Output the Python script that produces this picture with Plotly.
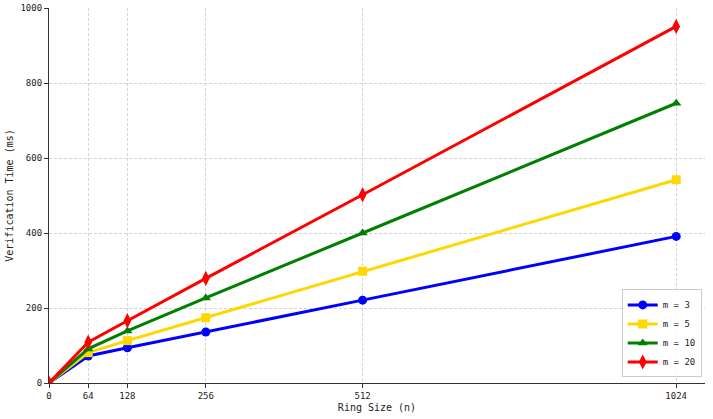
import plotly.graph_objects as go

ring_sizes = [0, 64, 128, 256, 512, 1024]
x_tick_labels = ["0", "64", "128", "256", "512", "1024"]
series_names = ["m = 3", "m = 5", "m = 10", "m = 20"]
m3 = [0, 72, 94, 136, 221, 391]
m5 = [0, 81, 113, 174, 298, 542]
m10 = [0, 91, 139, 227, 400, 746]
m20 = [0, 109, 166, 279, 502, 951]
y_ticks = [0, 200, 400, 600, 800, 1000]

colors = ["#0000ff", "#ffd700", "#008000", "#ff0000"]
symbols = ["circle", "square", "triangle-up", "diamond-tall"]
values = [m3, m5, m10, m20]

FONT = "DejaVu Sans Mono"

fig = go.Figure()
for name, vals, c, s in zip(series_names, values, colors, symbols):
    fig.add_trace(go.Scatter(
        x=ring_sizes, y=vals, name=name, mode="lines+markers",
        line=dict(color=c, width=3),
        marker=dict(symbol=s, size=9 if s != "diamond-tall" else 11, color=c),
    ))

fig.update_layout(
    width=713, height=419,
    margin=dict(l=49, r=8, t=8, b=36),
    plot_bgcolor="white", paper_bgcolor="white",
    font=dict(family=FONT, size=10, color="#222"),
    showlegend=True,
    legend=dict(
        x=0.995, y=0.015, xanchor="right", yanchor="bottom",
        bgcolor="rgba(255,255,255,0.85)", bordercolor="#cccccc", borderwidth=1,
        font=dict(family=FONT, size=9), itemwidth=30, tracegroupgap=0,
    ),
    xaxis=dict(
        range=[0, 1071], tickvals=ring_sizes, ticktext=x_tick_labels,
        tickfont=dict(family=FONT, size=9),
        showgrid=True, gridcolor="#d3d3d3", griddash="3px,2px", gridwidth=1,
        showline=True, linecolor="#333", linewidth=1.2,
        ticks="outside", ticklen=4, tickcolor="#333",
        zeroline=False, automargin=False,
        title=dict(text="Ring Size (n)", standoff=4, font=dict(family=FONT, size=10)),
    ),
    yaxis=dict(
        range=[0, 1000], tickvals=y_ticks,
        tickfont=dict(family=FONT, size=9),
        showgrid=True, gridcolor="#d3d3d3", griddash="3px,2px", gridwidth=1,
        showline=True, linecolor="#333", linewidth=1.2,
        ticks="outside", ticklen=4, tickcolor="#333",
        zeroline=False, automargin=False,
        title=dict(text="Verification Time (ms)", standoff=4, font=dict(family=FONT, size=10)),
    ),
)

fig.write_html("out.html")
